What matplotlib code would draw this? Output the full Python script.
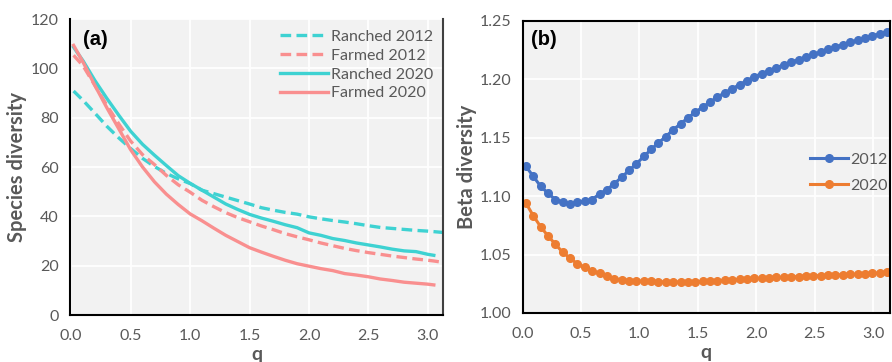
import numpy as np
import matplotlib
matplotlib.use("Agg")
import matplotlib.pyplot as plt

plt.rcParams['font.family'] = ['Lato', 'DejaVu Sans']

# panel (a): species diversity vs q
q_a = [0.02, 0.1, 0.2, 0.3, 0.4, 0.5, 0.6, 0.7, 0.8, 0.9, 1.0, 1.1, 1.2, 1.3, 1.4,
       1.5, 1.6, 1.7, 1.8, 1.9, 2.0, 2.1, 2.2, 2.3, 2.4, 2.5, 2.6, 2.7, 2.8, 2.9,
       3.0, 3.05, 3.12]
ranched_2012 = [90.8, 87.0, 81.8, 76.5, 71.8, 67.5, 63.5, 60.2, 57.4, 55.2, 53.3, 50.6,
                49.2, 47.8, 46.4, 45.0, 43.5, 42.5, 41.6, 40.9, 39.8, 39.0, 38.3, 37.7,
                37.0, 36.2, 35.5, 35.1, 34.7, 34.3, 34.0, 33.8, 33.5]
farmed_2012 = [105.3, 101.0, 93.0, 85.0, 77.5, 70.5, 65.0, 61.0, 56.6, 52.8, 49.8, 46.5,
               43.9, 41.5, 39.5, 37.8, 36.1, 34.6, 33.0, 31.7, 30.5, 29.2, 28.1, 27.0,
               26.1, 25.3, 24.6, 23.9, 23.3, 22.7, 22.2, 21.9, 21.4]
ranched_2020 = [108.6, 103.0, 95.0, 87.8, 81.0, 74.5, 69.2, 64.8, 60.6, 56.5, 53.4, 50.6,
                47.8, 45.0, 42.8, 40.8, 39.3, 38.0, 36.6, 35.4, 33.3, 32.3, 31.0, 30.2,
                29.2, 28.4, 27.6, 26.7, 26.0, 25.7, 24.6, 24.2, np.nan]
farmed_2020 = [109.3, 102.5, 93.0, 84.0, 75.5, 67.0, 60.0, 54.0, 49.0, 44.8, 41.0, 38.2,
               35.2, 32.3, 29.8, 27.3, 25.5, 23.8, 22.2, 20.8, 19.8, 18.8, 18.0, 16.8,
               16.2, 15.5, 14.6, 14.0, 13.3, 12.9, 12.5, 12.2, np.nan]

# panel (b): beta diversity vs q (50 evenly spaced q values)
q_b = np.linspace(0.028, 3.12, 50)
beta_2012 = [1.1257, 1.1171, 1.1086, 1.1026, 1.0971, 1.0951, 1.0931, 1.0946, 1.0957, 1.0971,
             1.1020, 1.1057, 1.1106, 1.1163, 1.1220, 1.1277, 1.1340, 1.1400, 1.1457, 1.1511,
             1.1569, 1.1620, 1.1671, 1.1720, 1.1763, 1.1806, 1.1849, 1.1886, 1.1920, 1.1955,
             1.1990, 1.2022, 1.2050, 1.2075, 1.2100, 1.2124, 1.2148, 1.2170, 1.2192, 1.2214,
             1.2234, 1.2257, 1.2277, 1.2297, 1.2317, 1.2334, 1.2354, 1.2374, 1.2389, 1.2406]
beta_2020 = [1.0943, 1.0834, 1.0740, 1.0660, 1.0590, 1.0520, 1.0470, 1.0420, 1.0390, 1.0360,
             1.0340, 1.0315, 1.0295, 1.0282, 1.0278, 1.0275, 1.0272, 1.0270, 1.0268, 1.0266,
             1.0266, 1.0266, 1.0266, 1.0268, 1.0270, 1.0273, 1.0277, 1.0280, 1.0284, 1.0288,
             1.0292, 1.0296, 1.0298, 1.0301, 1.0304, 1.0306, 1.0309, 1.0312, 1.0315, 1.0318,
             1.0320, 1.0322, 1.0325, 1.0327, 1.0330, 1.0333, 1.0336, 1.0340, 1.0343, 1.0350]

cyan = '#3ed2d2'
pink = '#f98f8f'
blue = '#4472c4'
orange = '#ed7d31'
gray_txt = '#595959'
bg = '#f2f2f2'

fig = plt.figure(figsize=(8.92, 3.62), dpi=100)
ax1 = fig.add_axes([0.0785, 0.1298, 0.4185, 0.8177])
ax2 = fig.add_axes([0.5858, 0.1354, 0.412, 0.8066])


def style_axes(ax):
    ax.set_facecolor(bg)
    ax.grid(True, color='white', linewidth=1.3)
    ax.set_axisbelow(True)
    ax.tick_params(length=0, labelsize=11.5, labelcolor=gray_txt)
    ax.tick_params(axis='x', pad=10)
    ax.tick_params(axis='y', pad=8)
    for s in ax.spines.values():
        s.set_color('black')
        s.set_linewidth(1.5)


style_axes(ax1)
dash = (3.2, 1.6)
ax1.plot(q_a, ranched_2012, color=cyan, lw=2.4, ls=(0, dash), label='Ranched 2012')
ax1.plot(q_a, farmed_2012, color=pink, lw=2.4, ls=(0, dash), label='Farmed 2012')
ax1.plot(q_a, ranched_2020, color=cyan, lw=2.4, label='Ranched 2020')
ax1.plot(q_a, farmed_2020, color=pink, lw=2.4, label='Farmed 2020')
ax1.set_xlim(-0.01, 3.13)
ax1.set_ylim(0, 120)
ax1.set_xticks(np.arange(0, 3.01, 0.5))
ax1.set_yticks(np.arange(0, 121, 20))
ax1.xaxis.set_major_formatter(matplotlib.ticker.FormatStrFormatter('%.1f'))
ax1.spines['top'].set_visible(False)
ax1.spines['right'].set_color('#404040')
ax1.set_xlabel('q', fontsize=14, fontweight='bold', color=gray_txt, labelpad=2)
ax1.set_ylabel('Species diversity', fontsize=14.5, fontweight='bold', color=gray_txt, labelpad=3)
ax1.text(0.035, 0.93, '(a)', transform=ax1.transAxes, fontsize=14.5, fontweight='bold',
         va='center', ha='left', family=['Liberation Sans', 'DejaVu Sans'])
leg1 = ax1.legend(loc='upper right', bbox_to_anchor=(1.0, 1.0), frameon=False,
                  fontsize=11.5, handlelength=3.0, handletextpad=0.15, labelspacing=0.3,
                  borderaxespad=0.25)
for t in leg1.get_texts():
    t.set_color(gray_txt)

style_axes(ax2)
ax2.plot(q_b, beta_2012, color=blue, lw=2.2, marker='o', ms=5.5, label='2012')
ax2.plot(q_b, beta_2020, color=orange, lw=2.2, marker='o', ms=5.5, label='2020')
ax2.set_xlim(0, 3.146)
ax2.set_ylim(1.0, 1.25)
ax2.set_xticks(np.arange(0, 3.01, 0.5))
ax2.set_yticks(np.arange(1.0, 1.251, 0.05))
ax2.xaxis.set_major_formatter(matplotlib.ticker.FormatStrFormatter('%.1f'))
ax2.yaxis.set_major_formatter(matplotlib.ticker.FormatStrFormatter('%.2f'))
ax2.set_xlabel('q', fontsize=14, fontweight='bold', color=gray_txt, labelpad=2)
ax2.set_ylabel('Beta diversity', fontsize=14.5, fontweight='bold', color=gray_txt, labelpad=2)
ax2.text(0.024, 0.935, '(b)', transform=ax2.transAxes, fontsize=14.5, fontweight='bold',
         va='center', ha='left', family=['Liberation Sans', 'DejaVu Sans'])
leg2 = ax2.legend(loc='center right', bbox_to_anchor=(1.01, 0.48), frameon=False,
                  fontsize=11.5, handlelength=2.4, handletextpad=0.1, labelspacing=0.75,
                  borderaxespad=0)
for t in leg2.get_texts():
    t.set_color(gray_txt)

fig.savefig('out.png', dpi=100)
